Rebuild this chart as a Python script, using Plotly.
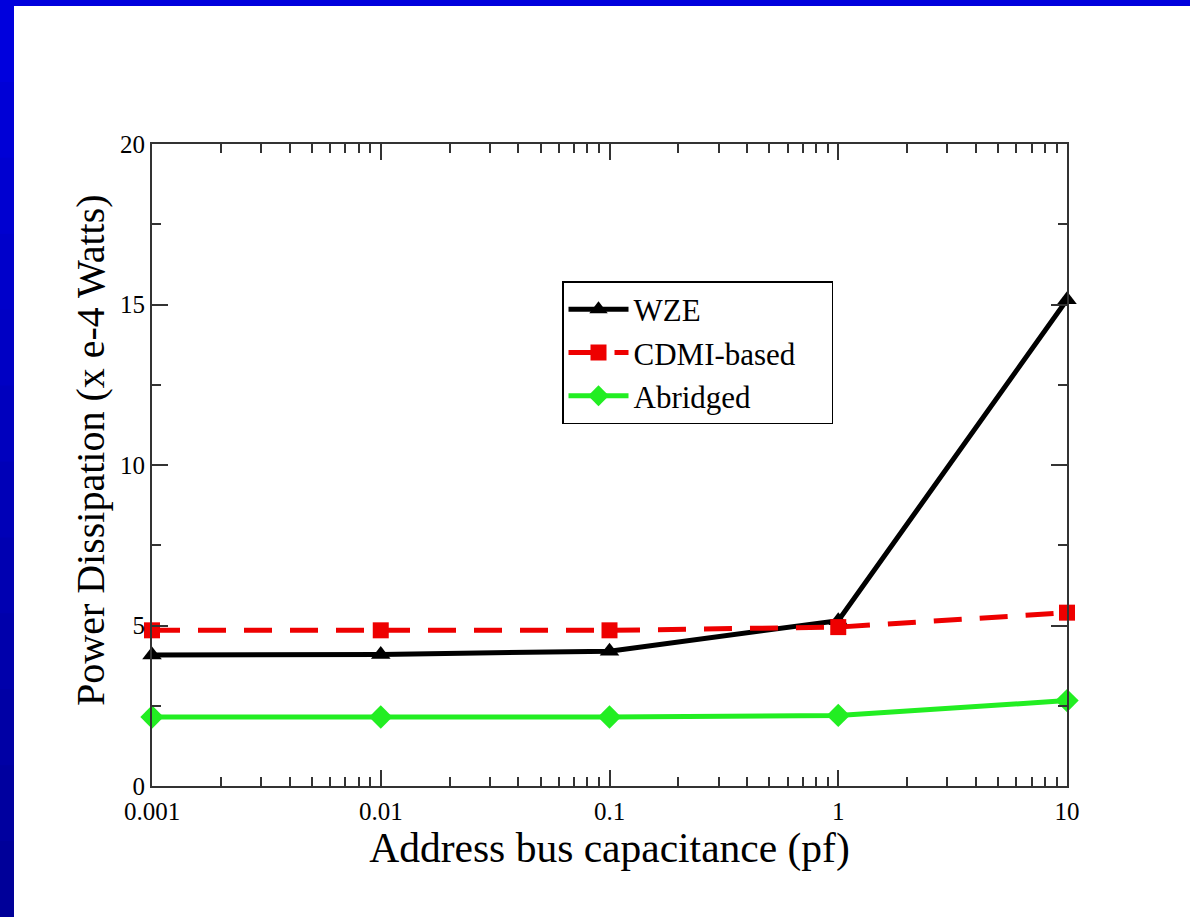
import plotly.graph_objects as go

capacitance = [0.001, 0.01, 0.1, 1, 10]
wze = [4.08, 4.10, 4.20, 5.15, 15.15]
cdmi = [4.85, 4.85, 4.85, 4.95, 5.40]
abridged = [2.15, 2.15, 2.15, 2.20, 2.66]

x_tickvals = [0.001, 0.01, 0.1, 1, 10]
x_ticktext = ["0.001", "0.01", "0.1", "1", "10"]
y_tickvals = [0, 5, 10, 15, 20]

FONT = "Liberation Serif"
PAD = "\u00a0" * 4

fig = go.Figure()
fig.add_trace(go.Scatter(x=capacitance, y=wze, name="WZE", mode="lines+markers", cliponaxis=False,
                         line=dict(color="black", width=5),
                         marker=dict(symbol="triangle-up", size=17, color="black")))
fig.add_trace(go.Scatter(x=capacitance, y=cdmi, name="CDMI-based" + PAD, mode="lines+markers", cliponaxis=False,
                         line=dict(color="#ee0000", width=5, dash="28px,18px"),
                         marker=dict(symbol="square", size=16, color="#ee0000")))
fig.add_trace(go.Scatter(x=capacitance, y=abridged, name="Abridged", mode="lines+markers", cliponaxis=False,
                         line=dict(color="#22ee22", width=5),
                         marker=dict(symbol="diamond", size=18, color="#22ee22")))

L, R, T, B = 152, 123, 144, 131
W, H = 1190, 917
pw, ph = W - L - R, H - T - B

def px(xp):
    return (xp - L) / pw

def py(yp):
    return (H - B - yp) / ph

shapes = []
# blue frame: top bar and left bar (with slight vertical gradient)
n = 12
for i in range(n):
    y0p = 6 + (H - 6) * i / n
    y1p = 6 + (H - 6) * (i + 1) / n
    t = i / (n - 1)
    b = int(0xdd + (0x99 - 0xdd) * t)
    shapes.append(dict(type="rect", xref="paper", yref="paper", x0=px(0), x1=px(14),
                       y0=py(y1p + 3), y1=py(y0p), fillcolor=f"rgb(0,0,{b})",
                       line=dict(width=0), layer="below"))
shapes.append(dict(type="rect", xref="paper", yref="paper", x0=px(0), x1=px(W), y0=py(6), y1=py(0),
                   fillcolor="#0000dd", line=dict(width=0), layer="below"))

fig.update_layout(
    width=W, height=H,
    margin=dict(l=L, r=R, t=T, b=B),
    paper_bgcolor="white", plot_bgcolor="white",
    font=dict(family=FONT, color="black"),
    showlegend=True,
    legend=dict(x=px(562), y=py(281), xanchor="left", yanchor="top",
                bordercolor="black", borderwidth=1.5, bgcolor="white",
                font=dict(family=FONT, size=31), itemwidth=60, tracegroupgap=0),
    shapes=shapes,
    annotations=[dict(text="Power Dissipation (x e-4 Watts)", textangle=-90,
                      xref="paper", yref="paper", x=px(90), y=py(450),
                      xanchor="center", yanchor="middle", showarrow=False,
                      font=dict(family=FONT, size=40, color="black"))],
    xaxis=dict(type="log", range=[-3, 1], tickvals=x_tickvals, ticktext=x_ticktext,
               ticks="inside", ticklen=16, tickwidth=1.5, tickcolor="#333",
               showline=True, linecolor="#333", linewidth=2, mirror="ticks",
               showgrid=False, zeroline=False,
               tickfont=dict(family=FONT, size=25), ticklabelstandoff=2,
               minor=dict(ticks="inside", ticklen=9, tickwidth=1.5, tickcolor="#333",
                          dtick="D1", showgrid=False),
               title=dict(text="Address bus capacitance (pf)", font=dict(family=FONT, size=41.5), standoff=0)),
    yaxis=dict(range=[0, 20], tickvals=y_tickvals,
               ticks="inside", ticklen=16, tickwidth=1.5, tickcolor="#333",
               showline=True, linecolor="#333", linewidth=2, mirror="ticks",
               showgrid=False, zeroline=False,
               tickfont=dict(family=FONT, size=25),
               minor=dict(ticks="inside", ticklen=9, tickwidth=1.5, tickcolor="#333",
                          dtick=2.5, showgrid=False)),
)

fig.write_html("out.html", config={"displayModeBar": False},
               post_script="document.body.style.margin='0';document.body.style.overflow='hidden';")
